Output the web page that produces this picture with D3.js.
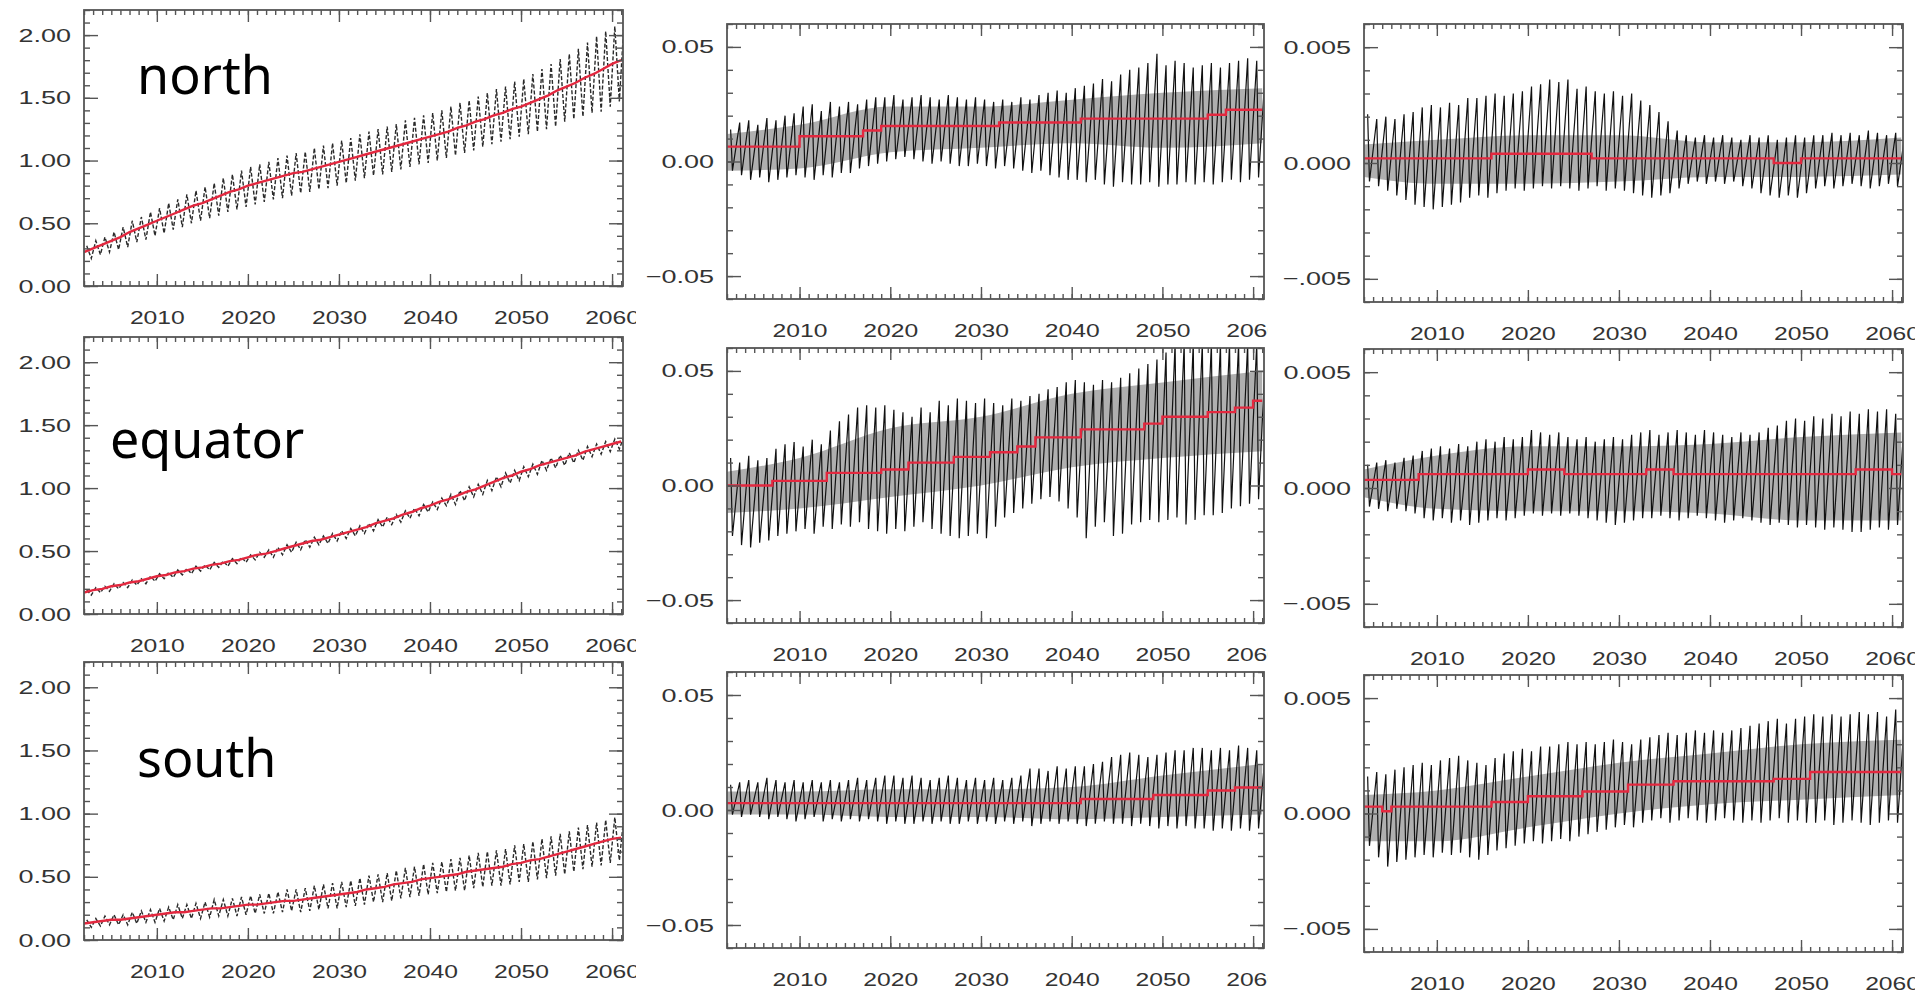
<!DOCTYPE html>
<html><head><meta charset="utf-8">
<script src="https://cdn.jsdelivr.net/npm/d3@7"></script>
<style>
html,body{margin:0;padding:0;background:#fff;}
svg{display:block;}
</style></head><body>
<svg id="chart" width="1915" height="997"></svg>
<script>
// ---------------- DATA ----------------
const years = d3.range(2002, 2062);              // annual samples 2002..2061
const decadeTicks = [2010, 2020, 2030, 2040, 2050, 2060];
const bandYears = [2002, 2010, 2020, 2030, 2040, 2050, 2061];
const regions = ["north", "equator", "south"];

const ticksA = [0, 0.5, 1.0, 1.5, 2.0];
const ticksB = [-0.05, 0, 0.05];
const ticksC = [-0.005, 0, 0.005];

// Column A (0 - 2.2)
const northA_hi = [.32,.36,.39,.43,.47,.52,.55,.59,.62,.66,.69,.73,.76,.79,.82,.86,.89,.92,.95,.97,.99,1.02,1.04,1.06,1.07,1.10,1.12,1.14,1.16,1.18,1.21,1.23,1.25,1.27,1.29,1.32,1.34,1.36,1.38,1.40,1.43,1.46,1.48,1.51,1.54,1.57,1.59,1.63,1.65,1.69,1.73,1.77,1.81,1.85,1.89,1.94,1.99,2.03,2.07,2.09];
const northA_lo = [.22,.25,.27,.29,.31,.35,.37,.40,.42,.45,.47,.50,.52,.54,.56,.59,.61,.63,.65,.67,.69,.70,.72,.74,.75,.77,.78,.80,.82,.84,.86,.88,.89,.91,.93,.95,.97,.98,1.00,1.02,1.04,1.06,1.08,1.11,1.13,1.15,1.17,1.19,1.21,1.23,1.25,1.27,1.31,1.33,1.35,1.38,1.39,1.43,1.47,1.50];
const northA_mean = [.27,.30,.33,.36,.39,.43,.46,.49,.52,.55,.58,.61,.64,.66,.69,.72,.75,.77,.80,.82,.84,.86,.88,.90,.91,.93,.95,.97,.99,1.01,1.03,1.05,1.07,1.09,1.11,1.13,1.15,1.17,1.19,1.21,1.23,1.26,1.28,1.31,1.33,1.36,1.38,1.41,1.43,1.46,1.49,1.52,1.56,1.59,1.62,1.66,1.69,1.73,1.77,1.80];

const equatorA_hi = [.19,.21,.22,.24,.25,.27,.28,.30,.32,.33,.35,.36,.38,.39,.41,.42,.44,.45,.47,.49,.51,.53,.55,.57,.59,.61,.62,.64,.66,.68,.70,.72,.75,.77,.79,.82,.84,.87,.89,.92,.95,.98,1.01,1.03,1.06,1.09,1.12,1.14,1.17,1.19,1.22,1.24,1.26,1.28,1.30,1.33,1.35,1.37,1.39,1.41];
const equatorA_lo = [.15,.17,.18,.20,.21,.23,.24,.26,.28,.29,.31,.32,.34,.35,.37,.38,.40,.41,.43,.45,.45,.47,.49,.51,.53,.55,.56,.58,.60,.62,.64,.66,.69,.71,.73,.76,.78,.81,.83,.86,.87,.90,.93,.95,.98,1.01,1.04,1.06,1.09,1.11,1.14,1.16,1.18,1.20,1.22,1.25,1.27,1.29,1.31,1.33];
const equatorA_mean = [.17,.19,.20,.22,.23,.25,.26,.28,.30,.31,.33,.34,.36,.37,.39,.40,.42,.43,.45,.47,.48,.50,.52,.54,.56,.58,.59,.61,.63,.65,.67,.69,.72,.74,.76,.79,.81,.84,.86,.89,.91,.94,.97,.99,1.02,1.05,1.08,1.10,1.13,1.15,1.18,1.20,1.22,1.24,1.26,1.29,1.31,1.33,1.35,1.37];

const southA_hi = [.16,.17,.19,.20,.20,.22,.23,.24,.25,.26,.28,.28,.29,.30,.32,.32,.33,.34,.35,.36,.37,.38,.40,.40,.41,.43,.44,.45,.46,.47,.49,.51,.52,.53,.55,.57,.58,.60,.61,.62,.64,.65,.67,.69,.70,.71,.72,.75,.76,.78,.80,.82,.84,.86,.89,.91,.93,.95,.97,.98];
const southA_lo = [.10,.11,.12,.12,.12,.13,.14,.14,.15,.16,.17,.17,.17,.18,.19,.19,.19,.20,.21,.21,.21,.22,.23,.22,.23,.24,.25,.25,.26,.27,.28,.30,.30,.31,.33,.34,.35,.36,.37,.38,.39,.39,.41,.42,.43,.43,.44,.46,.46,.48,.49,.51,.52,.54,.56,.58,.59,.61,.63,.64];
const southA_mean = [.13,.14,.15,.16,.16,.17,.18,.19,.20,.21,.22,.22,.23,.24,.25,.25,.26,.27,.28,.28,.29,.30,.31,.31,.32,.33,.34,.35,.36,.37,.38,.40,.41,.42,.44,.45,.46,.48,.49,.50,.51,.52,.54,.55,.56,.57,.58,.60,.61,.63,.64,.66,.68,.70,.72,.74,.76,.78,.80,.81];

// Column B (-0.06 - 0.06)
const northB_hi = [.014,.017,.018,.016,.019,.018,.020,.021,.024,.025,.022,.026,.024,.026,.025,.027,.028,.028,.029,.027,.028,.029,.028,.027,.029,.028,.027,.028,.027,.026,.027,.026,.028,.027,.029,.030,.031,.030,.032,.033,.034,.036,.035,.038,.040,.041,.043,.047,.042,.044,.043,.041,.042,.043,.041,.043,.044,.045,.044,.043];
const northB_lo = [-.004,-.006,-.008,-.007,-.009,-.008,-.007,-.006,-.007,-.008,-.006,-.007,-.005,-.005,-.003,-.002,-.001,.000,.001,.002,.001,.000,-.001,.000,-.001,-.002,-.002,-.001,-.002,-.003,-.002,-.003,-.004,-.005,-.004,-.006,-.007,-.008,-.008,-.009,-.008,-.010,-.011,-.009,-.010,-.010,-.009,-.011,-.010,-.010,-.009,-.010,-.009,-.010,-.009,-.008,-.009,-.008,-.007,-.008];
const northB_mean = [.0065,.0065,.0065,.0065,.0065,.0065,.0065,.0065,.011,.011,.011,.011,.011,.011,.011,.0135,.0135,.0155,.0155,.0155,.0155,.0155,.0155,.0155,.0155,.0155,.0155,.0155,.0155,.0155,.017,.017,.017,.017,.017,.017,.017,.017,.017,.0187,.0187,.0187,.0187,.0187,.0187,.0187,.0187,.0187,.0187,.0187,.0187,.0187,.0187,.0204,.0204,.0226,.0226,.0226,.0226,.0226];
const northB_bandHi = [.012,.016,.024,.024,.027,.030,.032];
const northB_bandLo = [-.004,-.003,.004,.006,.008,.006,.008];

const equatorB_hi = [.012,.010,.013,.011,.012,.016,.018,.019,.017,.020,.018,.024,.028,.031,.034,.035,.034,.035,.033,.032,.030,.034,.032,.037,.035,.038,.037,.036,.038,.036,.035,.038,.037,.039,.040,.042,.043,.045,.046,.045,.044,.046,.045,.047,.049,.051,.053,.055,.058,.062,.062,.062,.062,.062,.062,.062,.062,.062,.062,.060];
const equatorB_lo = [-.022,-.026,-.027,-.025,-.024,-.022,-.021,-.020,-.019,-.021,-.018,-.019,-.017,-.018,-.016,-.019,-.020,-.021,-.019,-.020,-.018,-.016,-.019,-.021,-.022,-.023,-.022,-.021,-.023,-.018,-.014,-.012,-.010,-.008,-.006,-.005,-.007,-.010,-.014,-.023,-.018,-.016,-.022,-.021,-.017,-.016,-.015,-.016,-.015,-.014,-.017,-.015,-.013,-.013,-.012,-.010,-.009,-.008,-.006,-.005];
const equatorB_mean = [.000,.000,.000,.000,.000,.002,.002,.002,.002,.002,.002,.0055,.0055,.0055,.0055,.0055,.0055,.007,.007,.007,.010,.010,.010,.010,.010,.0125,.0125,.0125,.0125,.0145,.0145,.0145,.017,.017,.021,.021,.021,.021,.021,.0245,.0245,.0245,.0245,.0245,.0245,.0245,.027,.027,.030,.030,.030,.030,.030,.032,.032,.032,.034,.034,.037,.037];
const equatorB_bandHi = [.006,.012,.025,.030,.040,.045,.050];
const equatorB_bandLo = [-.012,-.010,-.005,.000,.008,.012,.015];

const southB_hi = [.011,.012,.013,.012,.014,.013,.012,.013,.012,.013,.012,.013,.012,.013,.014,.013,.014,.015,.015,.014,.015,.014,.013,.014,.015,.014,.013,.014,.013,.014,.013,.014,.015,.018,.018,.017,.019,.018,.019,.019,.020,.021,.023,.024,.025,.024,.023,.024,.025,.026,.026,.027,.027,.026,.027,.026,.028,.027,.026,.027];
const southB_lo = [-.002,-.003,-.002,-.003,-.004,-.003,-.004,-.005,-.004,-.003,-.005,-.004,-.005,-.004,-.005,-.004,-.005,-.006,-.005,-.006,-.006,-.005,-.006,-.005,-.006,-.006,-.005,-.006,-.005,-.006,-.005,-.006,-.005,-.007,-.006,-.005,-.006,-.005,-.006,-.007,-.006,-.005,-.006,-.006,-.007,-.006,-.007,-.008,-.007,-.008,-.007,-.008,-.008,-.009,-.008,-.009,-.008,-.009,-.008,-.007];
const southB_mean = [.003,.003,.003,.003,.003,.003,.003,.003,.003,.003,.003,.003,.003,.003,.003,.003,.003,.003,.003,.003,.003,.003,.003,.003,.003,.003,.003,.003,.003,.003,.003,.003,.003,.003,.003,.003,.003,.003,.003,.0048,.0048,.0048,.0048,.0048,.0048,.0048,.0048,.0065,.0065,.0065,.0065,.0065,.0065,.0085,.0085,.0085,.0098,.0098,.0098,.0098];
const southB_bandHi = [.008,.008,.009,.009,.010,.015,.020];
const southB_bandLo = [-.002,-.002,-.003,-.003,-.004,-.003,-.002];

// Column C (-0.006 - 0.006)
const northC_hi = [.0021,.0019,.0020,.0019,.0021,.0022,.0024,.0025,.0024,.0026,.0025,.0028,.0028,.0029,.0030,.0029,.0030,.0031,.0033,.0034,.0036,.0035,.0036,.0032,.0033,.0031,.0030,.0031,.0029,.0030,.0027,.0025,.0022,.0018,.0014,.0012,.0011,.0012,.0011,.0012,.0011,.0010,.0012,.0011,.0012,.0010,.0011,.0012,.0011,.0012,.0012,.0013,.0012,.0013,.0012,.0014,.0013,.0012,.0013,.0012];
const northC_lo = [-.0008,-.0010,-.0012,-.0014,-.0016,-.0018,-.0019,-.0020,-.0019,-.0018,-.0017,-.0015,-.0014,-.0015,-.0013,-.0012,-.0011,-.0012,-.0011,-.0010,-.0011,-.0010,-.0011,-.0012,-.0011,-.0010,-.0012,-.0011,-.0012,-.0013,-.0014,-.0015,-.0014,-.0013,-.0011,-.0009,-.0008,-.0009,-.0008,-.0009,-.0008,-.0010,-.0011,-.0013,-.0014,-.0015,-.0014,-.0015,-.0013,-.0011,-.0010,-.0011,-.0010,-.0009,-.0010,-.0011,-.0010,-.0009,-.0010,-.0011];
const northC_mean = [.0002,.0002,.0002,.0002,.0002,.0002,.0002,.0002,.0002,.0002,.0002,.0002,.0002,.0002,.0004,.0004,.0004,.0004,.0004,.0004,.0004,.0004,.0004,.0004,.0004,.0002,.0002,.0002,.0002,.0002,.0002,.0002,.0002,.0002,.0002,.0002,.0002,.0002,.0002,.0002,.0002,.0002,.0002,.0002,.0002,.0000,.0000,.0000,.0002,.0002,.0002,.0002,.0002,.0002,.0002,.0002,.0002,.0002,.0002,.0002];
const northC_bandHi = [.0008,.0010,.0012,.0012,.0009,.0009,.0011];
const northC_bandLo = [-.0006,-.0009,-.0009,-.0008,-.0006,-.0006,-.0005];

const equatorC_hi = [.0010,.0011,.0012,.0011,.0013,.0014,.0016,.0017,.0018,.0017,.0019,.0018,.0020,.0021,.0020,.0022,.0021,.0022,.0025,.0024,.0023,.0024,.0022,.0021,.0022,.0020,.0021,.0022,.0021,.0023,.0024,.0025,.0023,.0024,.0025,.0024,.0023,.0025,.0024,.0023,.0022,.0024,.0023,.0024,.0026,.0027,.0029,.0030,.0029,.0031,.0030,.0032,.0031,.0033,.0032,.0034,.0033,.0034,.0032,.0033];
const equatorC_lo = [-.0008,-.0009,-.0010,-.0009,-.0010,-.0011,-.0013,-.0014,-.0013,-.0015,-.0014,-.0016,-.0015,-.0014,-.0013,-.0014,-.0013,-.0012,-.0011,-.0012,-.0011,-.0012,-.0011,-.0012,-.0013,-.0014,-.0015,-.0016,-.0015,-.0014,-.0013,-.0013,-.0012,-.0013,-.0014,-.0013,-.0012,-.0013,-.0014,-.0015,-.0014,-.0013,-.0014,-.0015,-.0016,-.0015,-.0016,-.0017,-.0016,-.0017,-.0018,-.0017,-.0018,-.0019,-.0019,-.0018,-.0017,-.0018,-.0016,-.0017];
const equatorC_mean = [.00035,.00035,.00035,.00035,.00035,.00035,.0006,.0006,.0006,.0006,.0006,.0006,.0006,.0006,.0006,.0006,.0006,.0006,.0008,.0008,.0008,.0008,.0006,.0006,.0006,.0006,.0006,.0006,.0006,.0006,.0006,.0008,.0008,.0008,.0006,.0006,.0006,.0006,.0006,.0006,.0006,.0006,.0006,.0006,.0006,.0006,.0006,.0006,.0006,.0006,.0006,.0006,.0006,.0006,.0008,.0008,.0008,.0008,.0006,.0006];
const equatorC_bandHi = [.0008,.0014,.0018,.0018,.0019,.0022,.0024];
const equatorC_bandLo = [-.0004,-.0009,-.0010,-.0010,-.0011,-.0014,-.0014];

const southC_hi = [.0016,.0018,.0017,.0019,.0020,.0021,.0022,.0021,.0023,.0024,.0025,.0023,.0022,.0021,.0024,.0026,.0027,.0028,.0027,.0029,.0029,.0030,.0031,.0030,.0031,.0030,.0031,.0032,.0031,.0030,.0032,.0033,.0034,.0035,.0034,.0035,.0036,.0035,.0036,.0035,.0036,.0037,.0038,.0039,.0040,.0041,.0039,.0041,.0042,.0043,.0042,.0043,.0042,.0043,.0044,.0043,.0044,.0042,.0045,.0043];
const southC_lo = [-.0014,-.0019,-.0023,-.0021,-.0020,-.0019,-.0018,-.0019,-.0017,-.0018,-.0017,-.0019,-.0020,-.0018,-.0016,-.0015,-.0014,-.0013,-.0012,-.0013,-.0012,-.0011,-.0012,-.0010,-.0009,-.0008,-.0007,-.0006,-.0005,-.0006,-.0004,-.0003,-.0002,-.0004,-.0003,-.0002,-.0003,-.0004,-.0003,-.0002,-.0003,-.0004,-.0003,-.0004,-.0003,-.0002,-.0004,-.0003,-.0004,-.0004,-.0003,-.0005,-.0004,-.0003,-.0004,-.0005,-.0004,-.0003,-.0004,-.0005];
const southC_mean = [.0003,.0003,.0001,.0003,.0003,.0003,.0003,.0003,.0003,.0003,.0003,.0003,.0003,.0003,.0005,.0005,.0005,.0005,.00075,.00075,.00075,.00075,.00075,.00075,.00095,.00095,.00095,.00095,.00095,.00125,.00125,.00125,.00125,.00125,.0014,.0014,.0014,.0014,.0014,.0014,.0014,.0014,.0014,.0014,.0014,.0015,.0015,.0015,.0015,.0018,.0018,.0018,.0018,.0018,.0018,.0018,.0018,.0018,.0018,.0018];
const southC_bandHi = [.0008,.0010,.0016,.0022,.0026,.0030,.0032];
const southC_bandLo = [-.0012,-.0012,-.0006,.0000,.0004,.0006,.0008];

// ---------------- LAYOUT ----------------
const colX = [[84, 623], [727, 1264], [1364, 1903]];
const colClip = [[0, 636], [636, 1268], [1268, 1915]];
const rowY = [
  [[10, 286], [337, 614], [662, 940]],
  [[24, 299], [348, 623], [672, 948]],
  [[24, 302], [349, 627], [675, 952]]
];
const labelPos = [[137, 94], [110, 458], [137, 777]];

const fmtA = d => d.toFixed(2);
const fmtB = d => d === 0 ? "0.00" : (d < 0 ? "\u2212" : "") + Math.abs(d).toFixed(2);
const fmtC = d => d === 0 ? "0.000" : (d < 0 ? "\u2212" + Math.abs(d).toFixed(3).slice(1) : d.toFixed(3));

const columns = [
  { domain: [0, 2.2], major: ticksA, minorStep: 0.1, fmt: fmtA, kind: "A",
    series: [[northA_hi, northA_lo, northA_mean], [equatorA_hi, equatorA_lo, equatorA_mean], [southA_hi, southA_lo, southA_mean]] },
  { domain: [-0.06, 0.06], major: ticksB, minorStep: 0.01, fmt: fmtB, kind: "B",
    series: [[northB_hi, northB_lo, northB_mean, northB_bandHi, northB_bandLo],
             [equatorB_hi, equatorB_lo, equatorB_mean, equatorB_bandHi, equatorB_bandLo],
             [southB_hi, southB_lo, southB_mean, southB_bandHi, southB_bandLo]] },
  { domain: [-0.006, 0.006], major: ticksC, minorStep: 0.001, fmt: fmtC, kind: "C",
    series: [[northC_hi, northC_lo, northC_mean, northC_bandHi, northC_bandLo],
             [equatorC_hi, equatorC_lo, equatorC_mean, equatorC_bandHi, equatorC_bandLo],
             [southC_hi, southC_lo, southC_mean, southC_bandHi, southC_bandLo]] }
];

// ---------------- DRAW ----------------
const svg = d3.select("#chart");
svg.append("rect").attr("width", 1915).attr("height", 997).attr("fill", "#fff");
const defs = svg.append("defs");
const AXIS = "#555";
const RED = "#e3283f";

columns.forEach((col, ci) => {
  const cid = "colclip" + ci;
  defs.append("clipPath").attr("id", cid).append("rect")
    .attr("x", colClip[ci][0]).attr("y", 0)
    .attr("width", colClip[ci][1] - colClip[ci][0]).attr("height", 997);
  const gc = svg.append("g").attr("clip-path", `url(#${cid})`);

  col.series.forEach((s, ri) => {
    const [x0, x1] = colX[ci];
    const [y0, y1] = rowY[ci][ri];
    const x = d3.scaleLinear().domain([2002, 2061.2]).range([x0, x1]);
    const y = d3.scaleLinear().domain(col.domain).range([y1, y0]);
    const g = gc.append("g");

    const pid = `pclip${ci}_${ri}`;
    defs.append("clipPath").attr("id", pid).append("rect")
      .attr("x", x0).attr("y", y0).attr("width", x1 - x0).attr("height", y1 - y0);
    const plot = g.append("g").attr("clip-path", `url(#${pid})`);

    const [hi, lo, mean, bHi, bLo] = s;

    if (bHi) {
      plot.append("path")
        .datum(bandYears.map((yr, i) => ({ yr, a: bLo[i], b: bHi[i] })))
        .attr("d", d3.area().x(d => x(d.yr)).y0(d => y(d.a)).y1(d => y(d.b)).curve(d3.curveMonotoneX))
        .attr("fill", "#6e6e6e").attr("opacity", 0.55);
    }

    const pts = [];
    if (col.kind === "A") {
      years.forEach((yr, i) => { pts.push([yr + 0.3, hi[i]]); pts.push([yr + 0.8, lo[i]]); });
    } else {
      years.forEach((yr, i) => { pts.push([yr + 0.4, hi[i]]); pts.push([yr + 0.6, lo[i]]); });
    }
    const zig = plot.append("path").datum(pts)
      .attr("d", d3.line().x(d => x(d[0])).y(d => y(d[1])))
      .attr("fill", "none");
    if (col.kind === "A") {
      zig.attr("stroke", "#2a2a2a").attr("stroke-width", 1.4).attr("stroke-dasharray", "4,2");
    } else {
      zig.attr("stroke", "#111").attr("stroke-width", 1.2);
    }

    plot.append("path")
      .datum(years.map((yr, i) => [yr, mean[i]]))
      .attr("d", d3.line().x(d => x(d[0])).y(d => y(d[1]))
        .curve(col.kind === "A" ? d3.curveLinear : d3.curveStepAfter))
      .attr("fill", "none").attr("stroke", RED).attr("stroke-width", 2.4);

    // axes
    const minorY = d3.range(col.domain[0], col.domain[1] + col.minorStep / 2, col.minorStep);
    const axes = g.append("g").attr("class", "axes");
    axes.append("g").attr("transform", `translate(0,${y1})`)
      .call(d3.axisBottom(x).tickValues(years).tickSize(-5).tickFormat(""));
    axes.append("g").attr("transform", `translate(0,${y1})`).attr("class", "xlab")
      .call(d3.axisBottom(x).tickValues(decadeTicks).tickSize(-12).tickPadding(25).tickFormat(d3.format("d")));
    axes.append("g").attr("transform", `translate(0,${y0})`)
      .call(d3.axisTop(x).tickValues(years).tickSize(-5).tickFormat(""));
    axes.append("g").attr("transform", `translate(0,${y0})`)
      .call(d3.axisTop(x).tickValues(decadeTicks).tickSize(-12).tickFormat(""));
    axes.append("g").attr("transform", `translate(${x0},0)`).attr("class", "ylab")
      .call(d3.axisLeft(y).tickValues(col.major).tickSize(-14).tickPadding(9.2).tickFormat(col.fmt));
    axes.append("g").attr("transform", `translate(${x0},0)`)
      .call(d3.axisLeft(y).tickValues(minorY).tickSize(-6).tickFormat(""));
    axes.append("g").attr("transform", `translate(${x1},0)`)
      .call(d3.axisRight(y).tickValues(col.major).tickSize(-14).tickFormat(""));
    axes.append("g").attr("transform", `translate(${x1},0)`)
      .call(d3.axisRight(y).tickValues(minorY).tickSize(-6).tickFormat(""));

    axes.selectAll(".domain").remove();
    axes.selectAll("line").attr("stroke", AXIS).attr("stroke-width", 1.4);
    axes.selectAll("text").attr("fill", "#333")
      .attr("font-family", "'Liberation Sans', Arial, sans-serif").attr("font-size", 19);
    axes.selectAll(".xlab text").attr("transform", "scale(1.3,1)");
    axes.selectAll(".ylab text").attr("transform", "scale(1.42,1)");

    g.append("rect").attr("x", x0).attr("y", y0).attr("width", x1 - x0).attr("height", y1 - y0)
      .attr("fill", "none").attr("stroke", AXIS).attr("stroke-width", 1.8);

    if (ci === 0) {
      g.append("text").attr("x", labelPos[ri][0]).attr("y", labelPos[ri][1])
        .attr("font-family", "'Comic Sans MS', 'Noto Sans', sans-serif")
        .attr("font-size", 52).attr("fill", "#000").text(regions[ri]);
    }
  });
});
</script>
</body></html>
